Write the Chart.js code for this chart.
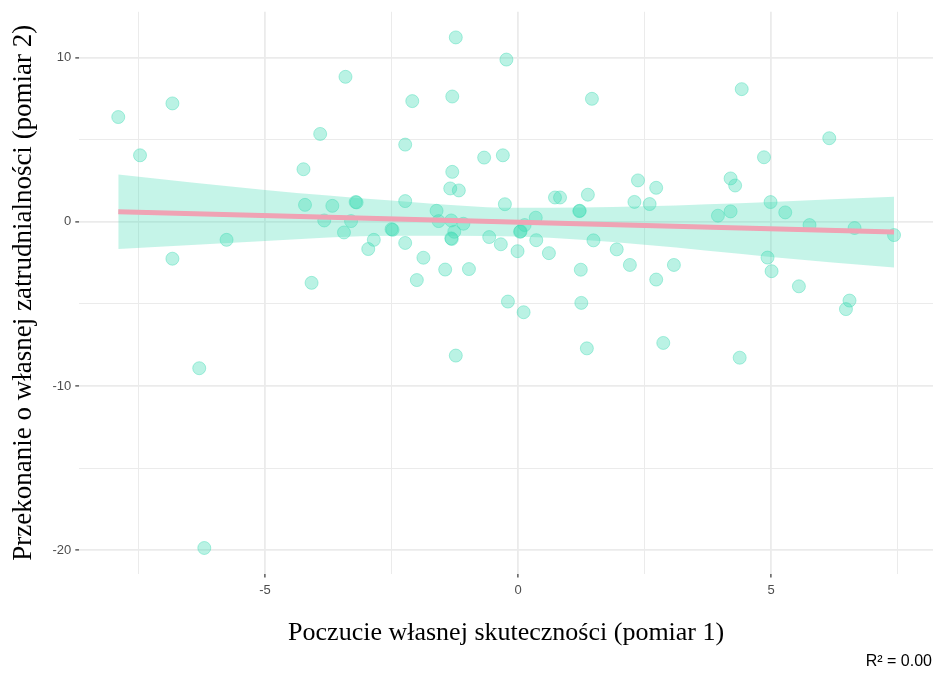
<!DOCTYPE html>
<html>
<head>
<meta charset="utf-8">
<script src="https://cdn.jsdelivr.net/npm/chart.js@4.4.1/dist/chart.umd.min.js"></script>
<style>
  html, body { margin: 0; padding: 0; background: #ffffff; }
  #wrap { width: 935px; height: 673px; position: relative; }
</style>
</head>
<body>
<div id="wrap"><canvas id="c" width="935" height="673"></canvas></div>
<script>
// ---- data ----
const xVals = [-7.90,-7.47,-6.83,-6.83,-6.30,-6.20,-5.76,-4.24,-4.21,-4.08,
  -3.91,-3.83,-3.67,-3.41,-3.44,-3.30,-3.19,-3.21,-2.96,-2.85,
  -2.48,-2.50,-2.23,-2.23,-2.23,-2.09,-2.00,-1.87,-1.61,-1.57,
  -1.44,-1.34,-1.30,-1.30,-1.32,-1.26,-1.32,-1.31,-1.23,-1.23,
  -1.17,-1.08,-0.97,-0.67,-0.57,-0.34,-0.30,-0.26,-0.23,-0.20,
  -0.01,0.04,0.05,0.13,0.11,0.35,0.36,0.61,0.73,0.83,
  1.21,1.22,1.24,1.25,1.36,1.38,1.46,1.49,1.95,2.21,
  2.30,2.37,2.60,2.73,2.73,2.87,3.08,3.95,4.20,4.20,
  4.29,4.38,4.42,4.86,4.93,4.99,5.01,5.28,5.55,5.76,
  6.15,6.48,6.55,6.65,7.43];
const yVals = [6.38,4.05,7.21,-2.25,-8.92,-19.87,-1.10,3.20,1.03,-3.72,
  5.35,0.08,0.97,8.83,-0.65,0.04,1.18,1.20,-1.66,-1.10,
  -0.49,-0.45,4.70,1.26,-1.29,7.35,-3.55,-2.19,0.67,0.04,
  -2.91,2.03,3.04,7.63,0.08,-0.61,-1.01,-1.05,11.23,-8.15,
  1.91,-0.12,-2.88,3.91,-0.93,-1.37,4.05,1.07,9.88,-4.86,
  -1.79,-0.61,-0.58,-0.20,-5.51,0.25,-1.12,-1.91,1.48,1.48,
  0.65,0.67,-2.92,-4.94,-7.71,1.65,7.49,-1.13,-1.68,-2.63,
  1.21,2.52,1.08,2.07,-3.52,-7.38,-2.63,0.37,0.63,2.64,
  2.21,-8.28,8.08,3.93,-2.18,1.20,-3.01,0.57,-3.93,-0.20,
  5.09,-5.32,-4.80,-0.38,-0.81];

// regression line and confidence band
const fitX = [-7.90, 7.43];
const fitY = [0.61, -0.63];
const bandX = [-7.90, -5.0, -2.5, 0.0, 2.5, 5.0, 7.43];
const bandUpper = [2.88, 1.94, 1.30, 0.85, 0.95, 1.21, 1.52];
const bandLower = [-1.66, -1.17, -0.85, -0.90, -1.40, -2.14, -2.79];

// axes
const xTickVals = [-7.5, -5, -2.5, 0, 2.5, 5, 7.5];
const xLabelVals = [-5, 0, 5];
const yTickVals = [-20, -15, -10, -5, 0, 5, 10];
const yLabelVals = [-20, -10, 0, 10];
const xTitle = 'Poczucie własnej skuteczności (pomiar 1)';
const yTitle = 'Przekonanie o własnej zatrudnialności (pomiar 2)';
const r2Text = 'R² = 0.00';

// ---- build chart ----
const toPts = (xs, ys) => xs.map((x, i) => ({ x: x, y: ys[i] }));
const isMajor = (list, v) => list.some(t => Math.abs(t - v) < 1e-9);

const r2Plugin = {
  id: 'r2',
  afterDraw(chart) {
    const ctx = chart.ctx;
    ctx.save();
    ctx.font = '16px "Liberation Sans", Arial, sans-serif';
    ctx.fillStyle = '#000000';
    ctx.textAlign = 'right';
    ctx.textBaseline = 'middle';
    ctx.fillText(r2Text, 932, 662);
    ctx.restore();
  }
};

new Chart(document.getElementById('c'), {
  type: 'scatter',
  data: {
    datasets: [
      {
        label: 'points',
        data: toPts(xVals, yVals),
        pointRadius: 6.5,
        pointBorderWidth: 1,
        pointBackgroundColor: 'rgba(64,220,180,0.36)',
        pointBorderColor: 'rgba(64,220,180,0.42)',
        pointHoverRadius: 6.5,
        order: 3
      },
      {
        type: 'line',
        label: 'upper',
        data: toPts(bandX, bandUpper),
        borderWidth: 0,
        borderColor: 'rgba(0,0,0,0)',
        pointRadius: 0,
        cubicInterpolationMode: 'monotone',
        fill: '+1',
        backgroundColor: 'rgba(64,220,180,0.30)',
        order: 2
      },
      {
        type: 'line',
        label: 'lower',
        data: toPts(bandX, bandLower),
        borderWidth: 0,
        borderColor: 'rgba(0,0,0,0)',
        pointRadius: 0,
        cubicInterpolationMode: 'monotone',
        fill: false,
        order: 2
      },
      {
        type: 'line',
        label: 'fit',
        data: toPts(fitX, fitY),
        borderWidth: 5,
        borderColor: '#EFA3B4',
        pointRadius: 0,
        fill: false,
        order: 0
      }
    ]
  },
  options: {
    responsive: false,
    animation: false,
    events: [],
    layout: { autoPadding: false, padding: { top: 10, right: 2, left: 0, bottom: 0 } },
    plugins: {
      legend: { display: false },
      tooltip: { enabled: false }
    },
    scales: {
      x: {
        type: 'linear',
        min: -8.67,
        max: 8.2,
        afterBuildTicks: (s) => { s.ticks = xTickVals.map(v => ({ value: v })); },
        afterFit: (s) => { s.height = 673 - 573.6; s.paddingLeft = 0; s.paddingRight = 0; },
        border: { display: false },
        grid: {
          color: '#EBEBEB',
          lineWidth: (c) => isMajor(xLabelVals, c.tick.value) ? 1.8 : 1.0,
          drawTicks: true,
          tickLength: 4,
          tickColor: (c) => isMajor(xLabelVals, c.tick.value) ? '#333333' : 'rgba(0,0,0,0)',
          tickWidth: 1.2
        },
        ticks: {
          autoSkip: false,
          maxRotation: 0,
          padding: 5,
          color: '#4D4D4D',
          font: { family: '"Liberation Sans", Arial, sans-serif', size: 13 },
          callback: (v) => isMajor(xLabelVals, v) ? String(v) : ''
        },
        title: {
          display: true,
          text: xTitle,
          color: '#000000',
          font: { family: '"Liberation Serif", "Times New Roman", serif', size: 26 },
          padding: { top: 0, bottom: 24 }
        }
      },
      y: {
        type: 'linear',
        min: -21.43,
        max: 12.79,
        afterBuildTicks: (s) => { s.ticks = yTickVals.map(v => ({ value: v })); },
        afterFit: (s) => { s.width = 79.3; },
        border: { display: false },
        grid: {
          color: '#EBEBEB',
          lineWidth: (c) => isMajor(yLabelVals, c.tick.value) ? 1.8 : 1.0,
          drawTicks: true,
          tickLength: 4,
          tickColor: (c) => isMajor(yLabelVals, c.tick.value) ? '#333333' : 'rgba(0,0,0,0)',
          tickWidth: 1.2
        },
        ticks: {
          autoSkip: false,
          padding: 4,
          color: '#4D4D4D',
          font: { family: '"Liberation Sans", Arial, sans-serif', size: 13 },
          callback: (v) => isMajor(yLabelVals, v) ? String(v) : ''
        },
        title: {
          display: true,
          text: yTitle,
          color: '#000000',
          font: { family: '"Liberation Serif", "Times New Roman", serif', size: 27 },
          padding: { top: 8, bottom: 0 }
        }
      }
    }
  },
  plugins: [r2Plugin]
});
</script>
</body>
</html>
